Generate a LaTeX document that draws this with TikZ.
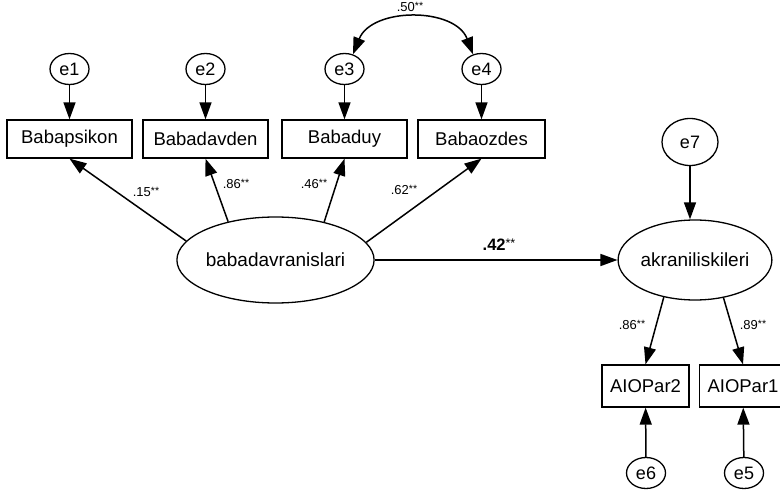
\documentclass[tikz,border=0pt]{standalone}
\usepackage{fontspec}
\setmainfont{Liberation Sans}
\usetikzlibrary{shapes.geometric,arrows.meta}
\begin{document}
\begin{tikzpicture}[x=1pt,y=-1pt,
  lat/.style={ellipse,draw,line width=1.3pt,inner sep=0pt,font=\fontsize{19}{22}\selectfont},
  err/.style={ellipse,draw,line width=1.3pt,inner sep=0pt,minimum width=39pt,minimum height=31pt,font=\fontsize{18}{20}\selectfont},
  obs/.style={rectangle,draw,line width=1.3pt,inner sep=0pt,minimum height=38pt,font=\fontsize{18.5}{20}\selectfont},
  arr/.style={line width=1.5pt,-{Triangle[length=17pt,width=12pt]}},
  coef/.style={font=\fontsize{13}{15}\selectfont,inner sep=0pt}]
\useasboundingbox (0,0) rectangle (780,492);
\newcommand{\stars}{\raisebox{2pt}{\fontsize{10.5}{10.5}\selectfont**}}
% error terms
\node[err] (e1) at (69.5,69) {e1};
\node[err] (e2) at (205.5,69) {e2};
\node[err] (e3) at (344.5,69) {e3};
\node[err] (e4) at (481.5,69) {e4};
% observed (father)
\node[obs,minimum width=125pt] (b1) at (69.5,139) {Babapsikon};
\node[obs,minimum width=125pt] (b2) at (205.5,139) {Babadavden};
\node[obs,minimum width=125pt] (b3) at (344.5,139) {Babaduy};
\node[obs,minimum width=127pt] (b4) at (481.5,139) {Babaozdes};
% latent
\node[lat,minimum width=194pt,minimum height=86pt] (bd) at (275.5,260) {babadavranislari};
\node[lat,minimum width=140pt,minimum height=80pt] (ak) at (695,260) {akraniliskileri};
\node[err,minimum width=56pt,minimum height=47pt] (e7) at (690,142) {e7};
% observed (peer)
\node[obs,minimum width=87pt,minimum height=42pt] (a2) at (645.5,386) {AIOPar2};
\node[obs,minimum width=87pt,minimum height=42pt] (a1) at (743,386) {AIOPar1};
\node[err] (e6) at (646,473) {e6};
\node[err] (e5) at (744,473) {e5};
% error arrows
\draw[arr] (e1) -- (b1);
\draw[arr] (e2) -- (b2);
\draw[arr] (e3) -- (b3);
\draw[arr] (e4) -- (b4);
\draw[arr] (e7.south) -- (e7.south |- ak.north);
\draw[arr] (e6) -- (a2);
\draw[arr] (e5) -- (a1);
% covariance
\draw[line width=1.5pt,{Triangle[length=17pt,width=12pt]}-{Triangle[length=17pt,width=12pt]}]
  (e3.60) .. controls (372,7) and (455,7) .. (e4.120);
\node[coef] (c50) at (410,7) {.50\stars};
% loadings
\draw[arr] (bd.168.8) -- (b1.south);
\draw[arr] (bd.141.3) -- (b2.south);
\draw[arr] (bd.38.7) -- (b3.south);
\draw[arr] (bd.11.1) -- (b4.south);
\node[coef] (c15) at (146,192) {.15\stars};
\node[coef] (c86) at (236,184) {.86\stars};
\node[coef] (c46) at (314,184) {.46\stars};
\node[coef] (c62) at (404,190) {.62\stars};
% structural path
\draw[arr] (bd.east) -- (ak.west);
\node[font=\fontsize{16.5}{18}\selectfont\bfseries,inner sep=0pt] (c42) at (499,245) {.42\raisebox{3pt}{\fontsize{12.5}{12.5}\selectfont\mdseries**}};
% peer loadings
\draw[arr] (ak.230) -- (a2.north);
\draw[arr] (ak.307) -- (a1.north);
\node[coef] (c86b) at (632,325) {.86\stars};
\node[coef] (c89) at (753,325) {.89\stars};
\end{tikzpicture}
\end{document}
